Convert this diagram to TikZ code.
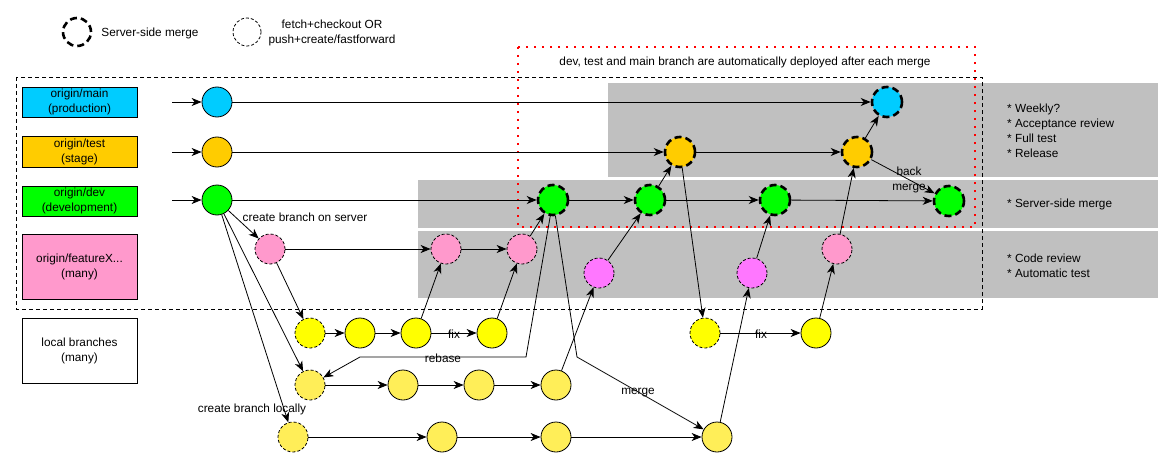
\documentclass[tikz,border=0pt]{standalone}
\usepackage{fontspec}
\setmainfont{Liberation Sans}
\usetikzlibrary{arrows.meta}
\definecolor{cmain}{HTML}{00CCFF}
\definecolor{ctest}{HTML}{FFCC00}
\definecolor{cdev}{HTML}{00FF00}
\definecolor{cfeat}{HTML}{FF99CC}
\definecolor{cfeatb}{HTML}{FF77FF}
\definecolor{cloc}{HTML}{FFFF00}
\definecolor{clocb}{HTML}{FFEE58}
\definecolor{cband}{HTML}{C0C0C0}
\begin{document}
\begin{tikzpicture}[x=1pt,y=-1pt,font=\fontsize{11.8}{15}\selectfont,
  commit/.style={circle,draw,minimum size=30pt,inner sep=0pt,line width=0.8pt},
  smerge/.style={commit,line width=2.6pt,dash pattern=on 7pt off 4pt},
  ffwd/.style={commit,dash pattern=on 3pt off 2pt},
  arr/.style={-{Stealth[length=10pt,width=8pt,inset=3pt]},line width=0.8pt},
  conn/.style={line width=0.8pt},
  lbox/.style={draw,line width=0.8pt,minimum width=115pt,align=center,inner sep=0pt},
  lbl/.style={inner sep=1pt,align=center},
  bandbox/.style={fill=cband,draw=none}]
\useasboundingbox (0,0) rectangle (1174,468);

% gray bands
\fill[cband] (608,83) rectangle (1158,177);
\fill[cband] (418,180) rectangle (1158,228);
\fill[cband] (418,231) rectangle (1158,298);

% frames
\draw[line width=0.8pt,dash pattern=on 4pt off 3pt] (16,77) rectangle (982,309);
\draw[red,line width=2pt,dash pattern=on 1.6pt off 6.4pt] (518,47) rectangle (975,227);
\node[lbl] (deploy) at (745,62) {dev, test and main branch are automatically deployed after each merge};

% legend
\node[smerge,minimum size=28pt] (legm) at (77,32) {};
\node[lbl] (legmt) at (150,33) {Server-side merge};
\node[ffwd,minimum size=28pt] (legf) at (247,32) {};
\node[lbl] (legft) at (332,33) {fetch+checkout OR\\push+create/fastforward};

% branch label boxes
\node[lbox,fill=cmain,minimum height=30pt] (bmain) at (79.5,102) {origin/main\\(production)};
\node[lbox,fill=ctest,minimum height=31pt] (btest) at (79.5,151.5) {origin/test\\(stage)};
\node[lbox,fill=cdev,minimum height=30pt] (bdev) at (79.5,201) {origin/dev\\(development)};
\node[lbox,fill=cfeat,minimum height=65pt] (bfeat) at (79.5,266.5) {origin/featureX...\\(many)};
\node[lbox,minimum height=65pt] (bloc) at (79.5,350.5) {local branches\\(many)};

% right notes
\node[lbl,align=left,anchor=west] (n1) at (1006,131) {* Weekly?\\* Acceptance review\\* Full test\\* Release};
\node[lbl,align=left,anchor=west] (n2) at (1006,204) {* Server-side merge};
\node[lbl,align=left,anchor=west] (n3) at (1006,266) {* Code review\\* Automatic test};

% commits
\node[commit,fill=cmain] (m0) at (217,102) {};
\node[commit,fill=ctest] (t0) at (217,152) {};
\node[commit,fill=cdev] (d0) at (217,200) {};
\node[smerge,fill=cmain] (m1) at (887,102) {};
\node[smerge,fill=ctest] (t1) at (680,152) {};
\node[smerge,fill=ctest] (t2) at (857,152) {};
\node[smerge,fill=cdev] (d1) at (553,200) {};
\node[smerge,fill=cdev] (d2) at (650,200) {};
\node[smerge,fill=cdev] (d3) at (775,200) {};
\node[smerge,fill=cdev] (d4) at (949,201) {};

\node[ffwd,fill=cfeat] (f0) at (270,249) {};
\node[ffwd,fill=cfeat] (f1) at (446,249) {};
\node[ffwd,fill=cfeat] (f2) at (522,249) {};
\node[ffwd,fill=cfeatb] (f3) at (599,273) {};
\node[ffwd,fill=cfeatb] (f4) at (752,273) {};
\node[ffwd,fill=cfeat] (f5) at (837,249) {};

\node[ffwd,fill=cloc] (l1a) at (310,333) {};
\node[commit,fill=cloc] (l1b) at (360,333) {};
\node[commit,fill=cloc] (l1c) at (416,333) {};
\node[commit,fill=cloc] (l1d) at (492,333) {};
\node[ffwd,fill=cloc] (l1e) at (705,333) {};
\node[commit,fill=cloc] (l1f) at (816,333) {};

\node[ffwd,fill=clocb] (l2a) at (310,385) {};
\node[commit,fill=clocb] (l2b) at (403,385) {};
\node[commit,fill=clocb] (l2c) at (479,385) {};
\node[commit,fill=clocb] (l2d) at (556,385) {};

\node[ffwd,fill=clocb] (l3a) at (293,437) {};
\node[commit,fill=clocb] (l3b) at (442,437) {};
\node[commit,fill=clocb] (l3c) at (556,437) {};
\node[commit,fill=clocb] (l3d) at (717,437) {};

% start points
\coordinate (s0) at (172,102);
\coordinate (s1) at (172,152);
\coordinate (s2) at (172,200);
\draw[arr] (s0) -- (m0);
\draw[arr] (s1) -- (t0);
\draw[arr] (s2) -- (d0);

% main line edges
\draw[arr] (m0) -- (m1);
\draw[arr] (t0) -- (t1);
\draw[arr] (t1) -- (t2);
\draw[arr] (d0) -- (d1);
\draw[arr] (d1) -- (d2);
\draw[arr] (d2) -- (d3);
\draw[arr] (d3) -- (d4);
\draw[arr] (d2) -- (t1);
\draw[arr] (t2) -- (m1);
\draw[arr] (t2) -- (d4);
\node[lbl] (backl) at (909,180) {back\\merge};

% feature edges
\draw[arr] (d0) -- (f0);
\node[lbl] (cbs) at (305,217) {create branch on server};
\draw[arr] (f0) -- (f1);
\draw[arr] (f1) -- (f2);
\draw[arr] (f2) -- (d1);
\draw[arr] (f0) -- (l1a);
\draw[arr] (d0) -- (l2a);
\draw[arr] (d0) -- (l3a);
\node[lbl] (cbl) at (252,409) {create branch locally};

% local row 1
\draw[arr] (l1a) -- (l1b);
\draw[arr] (l1b) -- (l1c);
\draw[arr] (l1c) -- (l1d);
\node[lbl] (fix1) at (454,334) {fix};
\draw[arr] (l1c) -- (f1);
\draw[arr] (l1d) -- (f2);

% rebase
\coordinate (rb1) at (526,357);
\coordinate (rb2) at (360,357);
\draw[arr] (d1) -- (rb1) -- (rb2) -- (l2a);
\node[lbl] (rebl) at (443,358) {rebase};

% local row 2
\draw[arr] (l2a) -- (l2b);
\draw[arr] (l2b) -- (l2c);
\draw[arr] (l2c) -- (l2d);
\draw[arr] (l2d) -- (f3);
\draw[arr] (f3) -- (d2);

% merge
\coordinate (mg1) at (577,357);
\draw[arr] (d1) -- (mg1) -- (l3d);
\node[lbl] (mergel) at (638,393) {merge};

% local row 3
\draw[arr] (l3a) -- (l3b);
\draw[arr] (l3b) -- (l3c);
\draw[arr] (l3c) -- (l3d);
\draw[arr] (l3d) -- (f4);
\draw[arr] (f4) -- (d3);

% second fix
\draw[arr] (t1) -- (l1e);
\draw[arr] (l1e) -- (l1f);
\node[lbl] (fix2) at (761,334) {fix};
\draw[arr] (l1f) -- (f5);
\draw[arr] (f5) -- (t2);
\end{tikzpicture}
\end{document}
